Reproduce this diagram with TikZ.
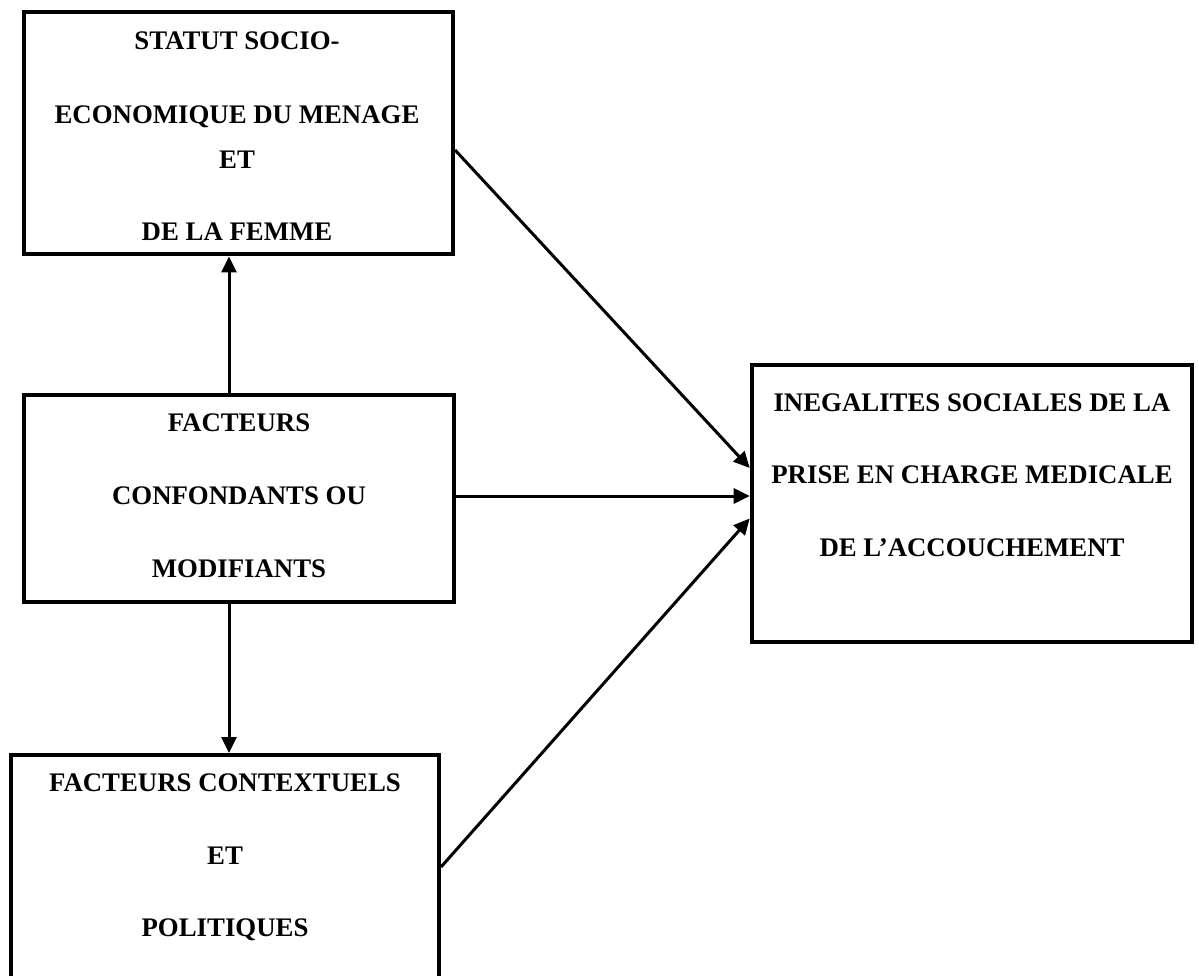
\documentclass[tikz,border=0pt]{standalone}
\usepackage{fontspec}
\setmainfont{Liberation Serif}
\usetikzlibrary{arrows.meta}
\tikzset{
  box/.style={draw=black, line width=4pt, rectangle, inner sep=0pt},
  lbl/.style={anchor=base, inner sep=0pt, font=\fontsize{26.8}{30}\selectfont\bfseries},
  link/.style={line width=3pt, -{Triangle[length=16pt,width=15pt]}}
}
\begin{document}
\begin{tikzpicture}[x=1pt,y=-1pt]
\useasboundingbox (0,0) rectangle (1199,976);
\clip (0,0) rectangle (1199,976);
\fill[white] (0,0) rectangle (1199,976);
% boxes
\node[box, minimum width=429.5pt, minimum height=242.5pt] (b1) at (238.25,133.25) {};
\node[box, minimum width=430pt, minimum height=207pt] (b2) at (239,498) {};
\node[box, minimum width=427.7pt, minimum height=255pt] (b3) at (225.15,882.5) {};
\node[box, minimum width=440.6pt, minimum height=276.5pt] (b4) at (972,503.25) {};
% texts
\node[lbl] (t1a) at (237,50) {STATUT SOCIO-};
\node[lbl] (t1b) at (237,124) {ECONOMIQUE DU MENAGE};
\node[lbl] (t1c) at (237,169) {ET};
\node[lbl] (t1d) at (237,241) {DE LA FEMME};
\node[lbl] (t2a) at (239,431) {FACTEURS};
\node[lbl] (t2b) at (239,504) {CONFONDANTS OU};
\node[lbl] (t2c) at (239,577) {MODIFIANTS};
\node[lbl] (t3a) at (225,791) {FACTEURS CONTEXTUELS};
\node[lbl] (t3b) at (225,864) {ET};
\node[lbl] (t3c) at (225,936) {POLITIQUES};
\node[lbl] (t4a) at (972,411) {INEGALITES SOCIALES DE LA};
\node[lbl] (t4b) at (972,483) {PRISE EN CHARGE MEDICALE};
\node[lbl] (t4c) at (972,556) {DE L’ACCOUCHEMENT};
% connectors
\draw[link] ([xshift=-10pt]b2.north) -- ([xshift=-9.25pt]b1.south);
\draw[link] ([xshift=-10pt]b2.south) -- ([xshift=3.85pt]b3.north);
\draw[link] ([yshift=-16.75pt]b1.east) -- ([yshift=35.25pt]b4.west);
\draw[link] ([yshift=2pt]b2.east) -- ([yshift=7.25pt]b4.west);
\draw[link] ([yshift=15.5pt]b3.east) -- ([yshift=-15.25pt]b4.west);
\end{tikzpicture}
\end{document}
